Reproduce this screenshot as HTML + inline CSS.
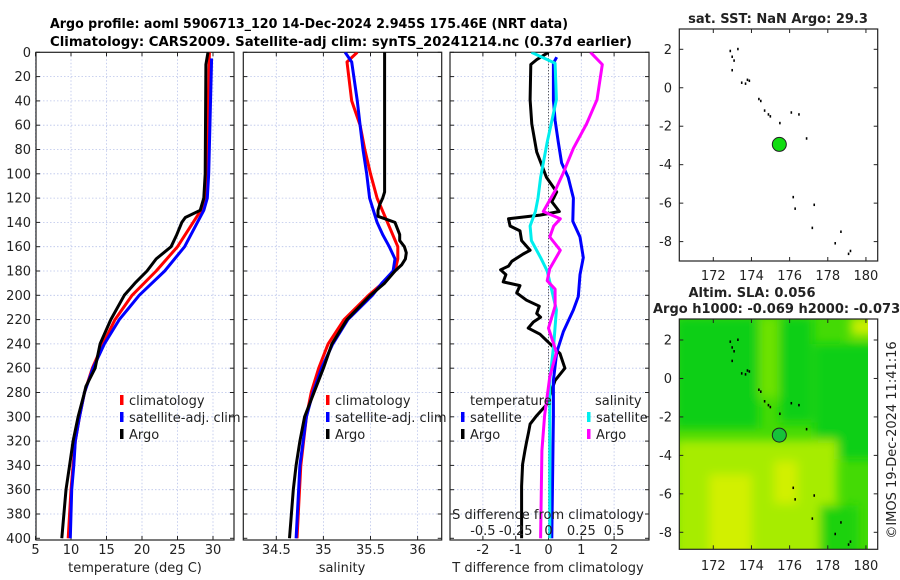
<!DOCTYPE html>
<html><head><meta charset="utf-8">
<style>
html,body{margin:0;padding:0;background:#fff;}
svg{display:block;font-family:"DejaVu Sans","Liberation Sans",sans-serif;}
</style></head>
<body>
<svg id="fig" width="900" height="580" viewBox="0 0 900 580" xmlns="http://www.w3.org/2000/svg">
<defs>
  <clipPath id="c1"><rect x="36" y="52.3" width="198" height="487.7"/></clipPath>
  <clipPath id="c2"><rect x="243.3" y="52.3" width="198.4" height="487.7"/></clipPath>
  <clipPath id="c3"><rect x="450" y="52.3" width="199" height="487.7"/></clipPath>
  <clipPath id="cm2"><rect x="679.3" y="319" width="188.7" height="230.3"/></clipPath>
  <filter id="blur" x="-20%" y="-20%" width="140%" height="140%"><feGaussianBlur stdDeviation="5"/></filter>
</defs>
<text x="50" y="28" font-size="13" font-weight="bold" textLength="518" lengthAdjust="spacingAndGlyphs">Argo profile: aoml 5906713_120 14-Dec-2024 2.945S 175.46E (NRT data)</text>
<text x="50" y="46" font-size="13" font-weight="bold" textLength="582" lengthAdjust="spacingAndGlyphs">Climatology: CARS2009. Satellite-adj clim: synTS_20241214.nc (0.37d earlier)</text>
<g id="layer"></g>
</svg>
<script>
// ---------- data ----------
const depthTicks = [0,20,40,60,80,100,120,140,160,180,200,220,240,260,280,300,320,340,360,380,400];
const tempTicks = [5,10,15,20,25,30];
const salTicks = [34.5,35,35.5,36];
const tdiffTicks = [-2,-1,0,1,2];
const sdiffTicks = [-0.5,-0.25,0,0.25,0.5];
const sdiffTickLabels = ["-0.5","-0.25","0","0.25","0.5"];

const argoTDepth = [0,10,100,120,130,136,140,150,160,170,180,190,200,220,240,260,275,280,300,320,340,360,380,400];
const argoTemp   = [29.3,29.0,28.9,28.7,28.2,26.1,25.6,24.9,24.1,22.0,20.7,19.0,17.5,15.6,14.1,13.4,12.1,11.9,11.0,10.3,9.8,9.3,9.0,8.7];
const climTDepth = [0,100,120,130,140,160,180,200,220,240,260,280,300,320,340,360,380,400];
const climTemp   = [29.5,29.1,28.9,28.3,27.2,25.0,22.0,18.6,16.2,14.5,13.0,11.9,11.2,10.6,10.3,10.0,9.8,9.6];
const satTDepth  = [5,100,120,130,140,160,180,200,220,240,260,280,300,320,340,360,380,400];
const satTemp    = [29.8,29.4,29.2,28.7,27.8,26.0,23.2,19.6,16.8,14.7,13.1,11.9,11.2,10.6,10.4,10.1,10.0,9.9];

const argoSDepth = [0,115,120,125,130,135,140,150,155,160,165,170,175,180,190,200,220,240,260,280,300,320,340,360,380,400];
const argoSal    = [35.65,35.65,35.63,35.60,35.58,35.58,35.76,35.81,35.81,35.86,35.88,35.87,35.83,35.76,35.65,35.50,35.25,35.09,35.00,34.90,34.80,34.75,34.71,34.68,34.66,34.64];
const climSDepth = [0,8,40,60,80,100,120,140,160,170,180,190,200,220,240,260,280,300,340,400];
const climSal    = [35.36,35.25,35.30,35.39,35.44,35.50,35.57,35.68,35.79,35.79,35.76,35.63,35.48,35.22,35.05,34.95,34.87,34.82,34.76,34.72];
const satSDepth  = [0,8,40,60,80,100,120,140,150,160,170,180,190,200,220,240,260,280,300,340,400];
const satSal     = [35.23,35.30,35.36,35.39,35.42,35.46,35.49,35.57,35.63,35.70,35.76,35.74,35.62,35.52,35.26,35.10,34.98,34.89,34.82,34.75,34.71];

const argoTdDepth = [0,6,10,39,59,82,103,115,123,131,134,137,143,147,155,163,166,172,176,179,183,189,192,198,204,209,215,218,222,227,232,240,248,260,270,282,290,299,306,313,321,328,339,357,386,400];
const argoTdiff   = [0,-0.36,-0.54,-0.56,-0.51,-0.36,-0.06,0.25,0.1,0.33,-0.26,-1.22,-1.17,-0.87,-0.82,-0.56,-0.77,-1.12,-1.22,-1.46,-1.3,-1.38,-0.87,-0.97,-0.67,-0.28,-0.36,-0.24,-0.46,-0.62,-0.26,0.05,0.35,0.5,0.2,0.05,-0.06,-0.36,-0.56,-0.61,-0.67,-0.72,-0.79,-0.82,-0.82,-0.82];
const satTdDepth  = [4,9,39,56,74,91,103,120,139,152,169,183,201,212,230,247,270,299,400];
const satTdiff    = [0.25,0.15,0.15,0.2,0.3,0.4,0.6,0.76,0.74,0.96,1.06,0.96,0.91,0.76,0.45,0.25,0.15,0.15,0.1];
const satSdDepth  = [0,9,39,74,103,120,131,143,155,169,180,212,241,270,400];
const satSdiff    = [-0.13,0.05,0.06,-0.01,-0.06,-0.08,-0.1,-0.14,-0.13,-0.06,-0.01,0.06,0.04,0.01,0.01];
const argoSdDepth = [0,10,39,59,79,100,114,131,137,143,152,163,178,188,195,209,227,247,267,299,328,400];
const argoSdiff   = [0.32,0.41,0.37,0.29,0.19,0.11,0.05,-0.04,0.09,0.04,0.01,0.09,0.01,-0.01,0.05,0.05,0,0.06,0.01,-0.03,-0.05,-0.06];

const lonTicks = [172,174,176,178,180];
const latTicks = [2,0,-2,-4,-6,-8];
const islandLon = [172.9,173.0,173.1,173.0,173.3,173.5,173.7,173.8,173.9,174.4,174.5,174.7,174.9,175.0,175.5,176.1,176.5,176.9,176.2,176.3,177.3,177.2,178.7,178.4,179.2,179.1];
const islandLat = [1.9,1.6,1.4,0.9,2.0,0.25,0.2,0.4,0.35,-0.6,-0.7,-1.2,-1.4,-1.5,-1.85,-1.3,-1.4,-2.65,-5.7,-6.3,-6.1,-7.3,-7.5,-8.1,-8.5,-8.65];
const floatLon = 175.46;
const floatLat = -2.945;

// ---------- scales ----------
const yD = d => 52.3 + d*1.215;
const xT = t => 35.5 + (t-5)*7.1;
const xS = s => 276.3 + (s-34.5)*94.2;
const xDT = v => 548.5 + v*32.8;
const xDS = v => 548.5 + v*4*32.8;
const mx = lon => 713.3 + (lon-172)*19.08;
const my1 = lat => 49.3 - (lat-2)*19.23;
const my2 = lat => 340 - (lat-2)*19.23;

const NS = "http://www.w3.org/2000/svg";
const layer = document.getElementById('layer');
function el(tag, attrs, parent){
  const e = document.createElementNS(NS, tag);
  for (const k in attrs) e.setAttribute(k, attrs[k]);
  (parent||layer).appendChild(e);
  return e;
}
function txt(x,y,s,size,anchor,parent){
  const t = el('text',{x:x,y:y,'font-size':size,'text-anchor':anchor||'start',fill:'#222'},parent);
  t.textContent = s;
  return t;
}

// ---------- profile panels ----------
function panel(name, x0, x1, clip, xTicks, xf, tickLabels, showY){
  const g = el('g',{});
  
  
  const yb = 540;
  depthTicks.forEach(d=>{
    if (d===0||d===400) return;
    const l = el('line',{x1:x0,x2:x1,y1:yD(d),y2:yD(d),stroke:'#b9c3ea','stroke-width':0.8,'stroke-dasharray':'1.5,2'},g);
    
    
  });
  xTicks.forEach(v=>{
    const x = xf(v);
    const l = el('line',{x1:x,x2:x,y1:52.3,y2:yb,stroke:'#b9c3ea','stroke-width':0.8,'stroke-dasharray':'1.5,2'},g);
    
    
  });
  depthTicks.forEach(d=>{
    el('line',{x1:x0,x2:x0+4,y1:yD(d),y2:yD(d),stroke:'#222','stroke-width':1},g);
    el('line',{x1:x1-4,x2:x1,y1:yD(d),y2:yD(d),stroke:'#222','stroke-width':1},g);
    if (showY){
      const t = txt(31, yD(d)+4.5, String(d), 13, 'end', g);
      
      
    }
  });
  xTicks.forEach((v,i)=>{
    const x = xf(v);
    el('line',{x1:x,x2:x,y1:yb,y2:yb-4,stroke:'#222','stroke-width':1},g);
    el('line',{x1:x,x2:x,y1:52.3,y2:56.3,stroke:'#222','stroke-width':1},g);
    const t = txt(x, 554, tickLabels ? tickLabels[i] : String(v), 13, 'middle', g);
    
    
  });
  const f = el('rect',{x:x0,y:52.3,width:x1-x0,height:yb-52.3,fill:'none',stroke:'#222','stroke-width':1.2},g);
  
  
  return g;
}
function line(g, clip, depths, vals, xf, color, name){
  const pts = depths.map((d,i)=> xf(vals[i]).toFixed(1)+','+yD(d).toFixed(1)).join(' ');
  const p = el('polyline',{points:pts,fill:'none',stroke:color,'stroke-width':3,'stroke-linejoin':'round','clip-path':'url(#'+clip+')'},g);
  
  
}
function legendEntry(g, x, y, color, label){
  const r = el('rect',{x:x,y:y-10,width:3.5,height:10,fill:color},g);
  
  
  const t = txt(x+9, y, label, 13, 'start', g);
  
  
}

const g1 = panel('temperature-panel',36,234,'c1',tempTicks,xT,null,true);
line(g1,'c1',climTDepth,climTemp,xT,'#ff0000','climatology-temp-line');
line(g1,'c1',satTDepth,satTemp,xT,'#0000ff','satellite-temp-line');
line(g1,'c1',argoTDepth,argoTemp,xT,'#000000','argo-temp-line');
legendEntry(g1,120,405,'#ff0000','climatology');
legendEntry(g1,120,422,'#0000ff','satellite-adj. clim');
legendEntry(g1,120,439,'#000000','Argo');
let at = txt(135,572,'temperature (deg C)',13,'middle',g1);



const g2 = panel('salinity-panel',243.3,441.7,'c2',salTicks,xS,null,false);
line(g2,'c2',climSDepth,climSal,xS,'#ff0000','climatology-salinity-line');
line(g2,'c2',satSDepth,satSal,xS,'#0000ff','satellite-salinity-line');
line(g2,'c2',argoSDepth,argoSal,xS,'#000000','argo-salinity-line');
legendEntry(g2,326,405,'#ff0000','climatology');
legendEntry(g2,326,422,'#0000ff','satellite-adj. clim');
legendEntry(g2,326,439,'#000000','Argo');
at = txt(342,572,'salinity',13,'middle',g2);



const g3 = panel('difference-panel',450,649,'c3',tdiffTicks,xDT,null,false);
const zl = el('line',{x1:xDT(0),x2:xDT(0),y1:52.3,y2:540,stroke:'#333','stroke-width':1,'stroke-dasharray':'1,2'},g3);


line(g3,'c3',argoTdDepth,argoTdiff,xDT,'#000000','argo-temp-diff-line');
line(g3,'c3',satTdDepth,satTdiff,xDT,'#0000ff','satellite-temp-diff-line');
line(g3,'c3',satSdDepth,satSdiff,xDS,'#00eeee','satellite-salinity-diff-line');
line(g3,'c3',argoSdDepth,argoSdiff,xDS,'#ff00ff','argo-salinity-diff-line');
let lt = txt(470,405,'temperature',13,'start',g3);


lt = txt(595,405,'salinity',13,'start',g3);


legendEntry(g3,461,422,'#0000ff','satellite');
legendEntry(g3,461,439,'#000000','Argo');
legendEntry(g3,587,422,'#00eeee','satellite');
legendEntry(g3,587,439,'#ff00ff','Argo');
lt = txt(548,519,'S difference from climatology',13,'middle',g3);


sdiffTicks.forEach((v,i)=>{
  const t = txt(xDS(v),535,sdiffTickLabels[i],13,'middle',g3);
  
  
});
at = txt(548,572,'T difference from climatology',13,'middle',g3);



// ---------- maps ----------
function mapAxes(name){
  const g = el('g',{});
  
  
  return g;
}
function mapFrame(g, ytop, ybot, myf, labelY){
  latTicks.forEach(l=>{
    const y = myf(l);
    el('line',{x1:679.3,x2:683.3,y1:y,y2:y,stroke:'#222'},g);
    el('line',{x1:873.7,x2:877.7,y1:y,y2:y,stroke:'#222'},g);
    const t = txt(672,y+4.5,String(l),13,'end',g);
    
    
  });
  lonTicks.forEach(l=>{
    const x = mx(l);
    el('line',{x1:x,x2:x,y1:ybot,y2:ybot-4,stroke:'#222'},g);
    el('line',{x1:x,x2:x,y1:ytop,y2:ytop+4,stroke:'#222'},g);
    const t = txt(x,labelY,String(l),13,'middle',g);
    
    
  });
  const f = el('rect',{x:679.3,y:ytop,width:198.4,height:ybot-ytop,fill:'none',stroke:'#222','stroke-width':1.2},g);
  
  
}
function islands(g, myf){
  islandLon.forEach((lo,i)=>{
    const r = el('rect',{x:mx(lo)-1,y:myf(islandLat[i])-1.5,width:1.6,height:2.5,fill:'#000'},g);
    
    
  });
}

const gm1 = mapAxes('sst-map');
let tt = txt(778,23,'sat. SST: NaN Argo: 29.3',13,'middle',gm1);
tt.setAttribute('font-weight','bold');


islands(gm1, my1);
let fc = el('circle',{cx:mx(floatLon),cy:my1(floatLat),r:7,fill:'#11dd11',stroke:'#222','stroke-width':1},gm1);


mapFrame(gm1,29,261,my1,280);

const gm2 = mapAxes('sla-map');
tt = txt(752,297,'Altim. SLA: 0.056',13,'middle',gm2);
tt.setAttribute('font-weight','bold');


tt = txt(653,313,'Argo h1000: -0.069 h2000: -0.073',13,'start',gm2);
tt.setAttribute('font-weight','bold');


const bg = el('g',{'clip-path':'url(#cm2)'},gm2);


el('rect',{x:679,y:319,width:190,height:232,fill:'#44da05'},bg);
const blobs = el('g',{filter:'url(#blur)'},bg);
function blob(lo1,la1,lo2,la2,c){ el('rect',{x:mx(lo1),y:my2(la1),width:mx(lo2)-mx(lo1),height:my2(la2)-my2(la1),fill:c},blobs); }
blob(170,3.2,174.4,-2.6,'#0fcf12');
blob(175.5,3.2,177.2,-2.3,'#0fcf12');
blob(177.3,1.8,181,-4.2,'#0fcf12');
blob(174.4,3.2,175.4,-1,'#6ee205');
blob(170,-3.2,178.5,-9.5,'#a7ec04');
blob(171.8,-5,174,-9.5,'#d2f000');
blob(175.2,-4.3,176.4,-6.5,'#d2f000');
blob(177.6,-6.6,179.6,-9.5,'#1fd20f');
blob(179.2,3.2,181,2.2,'#c8ee00');
islands(gm2, my2);
fc = el('circle',{cx:mx(floatLon),cy:my2(floatLat),r:7,fill:'#16c23a',stroke:'#222','stroke-width':1},gm2);


el('rect',{x:868,y:319,width:10,height:231,fill:'#fff'},gm2);
mapFrame(gm2,319,549.3,my2,570);

const stamp = el('text',{x:0,y:0,'font-size':13,'text-anchor':'middle',fill:'#222',transform:'translate(896,440) rotate(-90)'});
stamp.textContent = '©IMOS 19-Dec-2024 11:41:16';


</script>
</body></html>
